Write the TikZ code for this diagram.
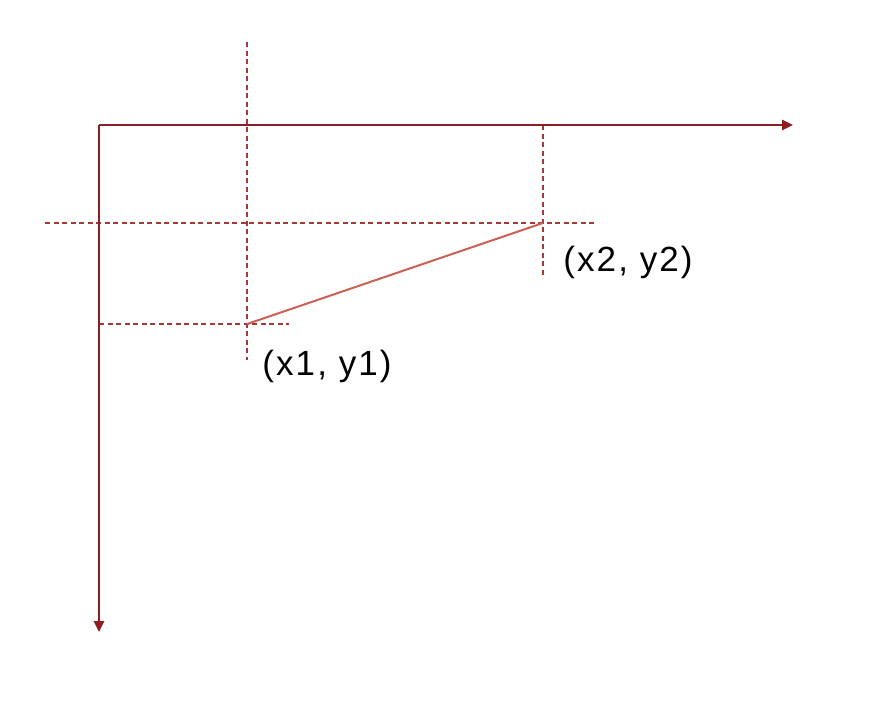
\documentclass[tikz,border=0pt]{standalone}
\usepackage{fontspec}
\setmainfont{Liberation Sans}[LetterSpace=6]
\usetikzlibrary{arrows.meta}

\definecolor{axisred}{RGB}{140,32,32}
\definecolor{guidered}{RGB}{165,55,55}
\definecolor{segred}{RGB}{205,95,85}

\tikzset{every picture/.style={line width=0.75pt}}
\tikzset{
  axisline/.style={draw=axisred, line width=2.6pt, -{Triangle[length=11pt,width=10pt]}},
  guideline/.style={draw=guidered, line width=2.4pt, dash pattern={on 5pt off 3.5pt}},
  segline/.style={draw=segred, line width=2pt},
  ptlabel/.style={anchor=west, inner sep=0pt, font=\fontsize{35}{38}\selectfont}
}

\begin{document}
\begin{tikzpicture}[x=1pt,y=1pt,yscale=-1,xscale=1]
\useasboundingbox (0,0) rectangle (876,704);

% Points
\coordinate (O) at (99,125);
\coordinate (xend) at (793,125);
\coordinate (yend) at (99,632);
\coordinate (P1) at (247,324);
\coordinate (P2) at (543,223);

% Guide ends
\coordinate (g1top) at (247,42);
\coordinate (g1bot) at (247,360);
\coordinate (g1left) at (99,324);
\coordinate (g1right) at (289,324);
\coordinate (g2top) at (543,125);
\coordinate (g2bot) at (543,278);
\coordinate (g2left) at (45,223);
\coordinate (g2right) at (597,223);

%Dashed guides
\draw [guideline] (g1top) -- (g1bot);
\draw [guideline] (g1left) -- (g1right);
\draw [guideline] (g2top) -- (g2bot);
\draw [guideline] (g2left) -- (g2right);

%Axes
\draw [axisline] (O) -- (xend);
\draw [axisline] (O) -- (yend);

%Segment
\draw [segline] (P1) -- (P2);

% Text Node
\node [ptlabel] (lab1) at (262,366) {(x1, y1)};
% Text Node
\node [ptlabel] (lab2) at (563,262) {(x2, y2)};

\end{tikzpicture}
\end{document}
